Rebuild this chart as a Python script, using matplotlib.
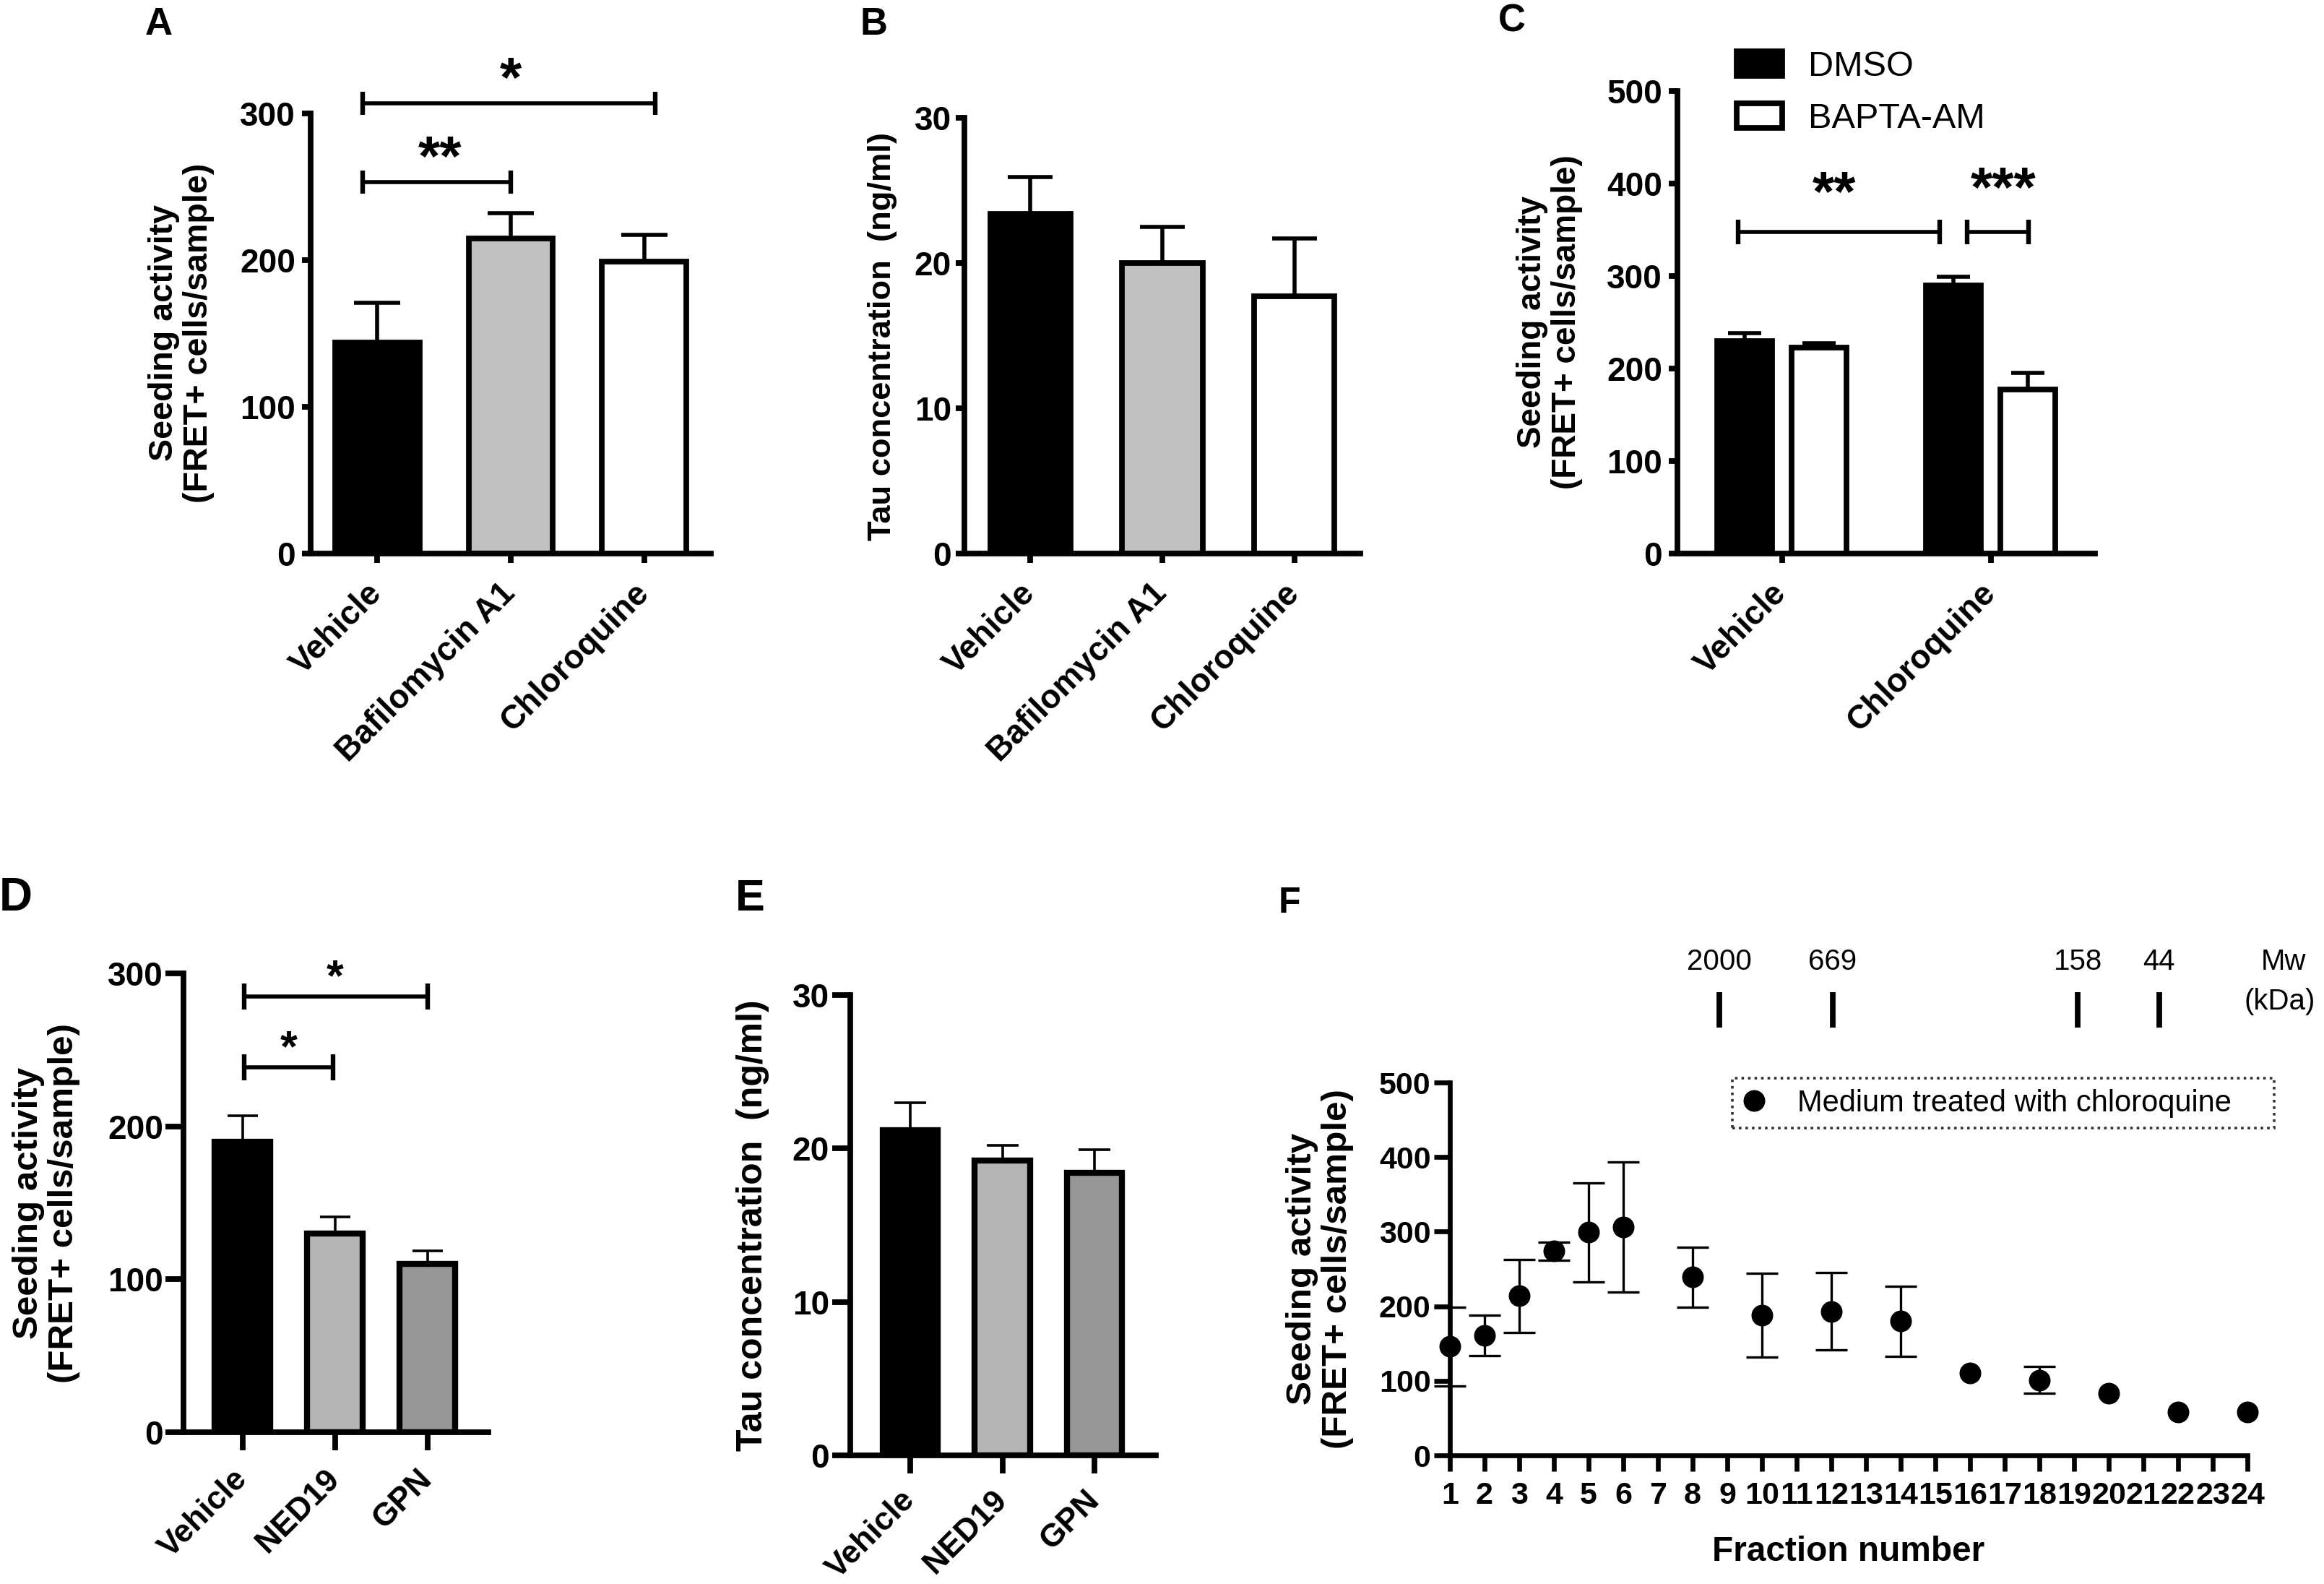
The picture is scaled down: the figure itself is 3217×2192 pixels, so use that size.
import matplotlib.pyplot as plt
from matplotlib.patches import Patch
from matplotlib.lines import Line2D

plt.rcParams['font.family'] = ['Liberation Sans', 'DejaVu Sans']
plt.rcParams['font.weight'] = 'bold'

# ---- data ----
ab_groups = ['Vehicle', 'Bafilomycin A1', 'Chloroquine']
ab_colors = ['black', '#c0c0c0', 'white']
a_mean = [144, 215, 199]
a_err = [27, 17, 18]
b_mean = [23.4, 20.0, 17.7]
b_err = [2.5, 2.5, 4.0]

c_groups = ['Vehicle', 'Chloroquine']
c_dmso = [230, 290]
c_dmso_err = [8, 9]
c_bapta = [223, 177]
c_bapta_err = [4, 18]

de_groups = ['Vehicle', 'NED19', 'GPN']
de_colors = ['black', '#b4b4b4', '#969696']
d_mean = [190, 130, 110]
d_err = [17, 11, 8.5]
e_mean = [21.2, 19.2, 18.4]
e_err = [1.8, 1.0, 1.5]

f_fraction = [1, 2, 3, 4, 5, 6, 8, 10, 12, 14, 16, 18, 20, 22, 24]
f_mean = [146, 161, 214, 274, 299, 306, 239, 188, 193, 180, 110, 101, 83, 58, 58]
f_err = [53, 27, 49, 12, 66, 87, 40, 56, 52, 47, 0, 18, 0, 0, 0]
mw_labels = ['2000', '669', '158', '44']
mw_fraction = [8.77, 12.04, 19.11, 21.45]

# significance brackets: x0, x1, bracket y, stars, star x, star y
a_sig = [(-0.11, 1.0, 253, '**', 0.47, 279), (-0.11, 2.085, 307, '*', 1.0, 333)]
c_sig = [(-0.21, 0.755, 348, '**', 0.25, 404), (0.887, 1.183, 348, '***', 1.06, 409)]
d_sig = [(0.02, 0.977, 238.5, '*', 0.5, 259), (0.02, 2.0, 285, '*', 1.0, 305)]

W, H, DPI = 3217, 2192, 200
fig = plt.figure(figsize=(W / DPI, H / DPI), dpi=DPI)


def add_ax(x0, y0, x1, y1):
    return fig.add_axes([x0 / W, 1 - y1 / H, (x1 - x0) / W, (y1 - y0) / H])


def style(ax, lw, ticklen, fs, ypad, xpad):
    for s in ['top', 'right']:
        ax.spines[s].set_visible(False)
    for s in ['left', 'bottom']:
        ax.spines[s].set_linewidth(lw)
    ax.tick_params(axis='both', width=lw, length=ticklen)
    ax.tick_params(axis='y', pad=ypad, labelsize=fs)
    ax.tick_params(axis='x', pad=xpad)


def ftext(x, y, s, **kw):
    fig.text(x / W, 1 - y / H, s, ha='center', va='center', **kw)


def bracket(ax, x0, x1, y, cap, lw):
    ax.plot([x0, x1], [y, y], color='black', lw=lw, clip_on=False, solid_capstyle='butt')
    ax.plot([x0, x1], [y, y], ls='none', marker='|', ms=cap, mew=lw + 0.3,
            color='black', clip_on=False)


def stars(ax, x, y, s, fs):
    ax.annotate(s, (x, y), xytext=(0, -0.56 * fs), textcoords='offset points',
                ha='center', va='baseline', fontsize=fs, fontweight='bold',
                annotation_clip=False)


def xlabels(ax, groups, fs):
    ax.set_xticks(list(range(len(groups))))
    ax.set_xticklabels(groups, rotation=45, ha='right', va='center',
                       rotation_mode='anchor', fontsize=fs, fontweight='bold')


def bar_panel(ax, groups, mean, err, colors, width, lw, elw, cap, fs):
    x = list(range(len(groups)))
    ax.bar(x, mean, width=width, color=colors, edgecolor='black', linewidth=lw, zorder=2)
    ax.errorbar(x, mean, yerr=[[0] * len(err), err], fmt='none', ecolor='black',
                elinewidth=elw, capsize=cap, capthick=elw, zorder=1)
    xlabels(ax, groups, fs)


# ---- A ----
axA = add_ax(430, 157, 984, 766)
bar_panel(axA, ab_groups, a_mean, a_err, ab_colors, 0.63, 2.8, 2, 11.5, 16.5)
axA.set_xlim(-0.5, 2.5)
axA.set_ylim(0, 300)
axA.set_yticks([0, 100, 200, 300])
style(axA, 2.8, 4.5, 16.5, 3, 13)
for x0, x1, y, s, sx, sy in a_sig:
    bracket(axA, x0, x1, y, 11.5, 2)
    stars(axA, sx, sy, s, 28)
ftext(251, 461, 'Seeding activity\n(FRET+ cells/sample)', rotation=90, fontsize=16.8, linespacing=1.1)
ftext(220, 34, 'A', fontsize=19)

# ---- B ----
axB = add_ax(1335, 163, 1883, 766)
bar_panel(axB, ab_groups, b_mean, b_err, ab_colors, 0.61, 2.8, 2, 11, 16.5)
axB.set_xlim(-0.5, 2.5)
axB.set_ylim(0, 30)
axB.set_yticks([0, 10, 20, 30])
style(axB, 2.8, 4.5, 16.5, 2, 13)
ftext(1221, 465, 'Tau concentration  (ng/ml)', rotation=90, fontsize=16.3)
ftext(1210, 34, 'B', fontsize=19)

# ---- C ----
axC = add_ax(2322, 126, 2900, 766)
xc = list(range(len(c_groups)))
off = 0.178
axC.bar([i - off for i in xc], c_dmso, width=0.26, color='black', edgecolor='black',
        linewidth=2.8, zorder=2)
axC.bar([i + off for i in xc], c_bapta, width=0.26, color='white', edgecolor='black',
        linewidth=2.8, zorder=2)
axC.errorbar([i - off for i in xc], c_dmso, yerr=[[0, 0], c_dmso_err], fmt='none',
             ecolor='black', elinewidth=2, capsize=8.4, capthick=2, zorder=1)
axC.errorbar([i + off for i in xc], c_bapta, yerr=[[0, 0], c_bapta_err], fmt='none',
             ecolor='black', elinewidth=2, capsize=8.4, capthick=2, zorder=1)
xlabels(axC, c_groups, 16.5)
axC.set_xlim(-0.5, 1.5)
axC.set_ylim(0, 500)
axC.set_yticks(range(0, 501, 100))
style(axC, 2.8, 4.5, 16.5, 3, 13)
for x0, x1, y, s, sx, sy in c_sig:
    bracket(axC, x0, x1, y, 12.5, 2)
    stars(axC, sx, sy, s, 28)
legC = axC.legend(handles=[Patch(facecolor='black', edgecolor='black', linewidth=2.8),
                           Patch(facecolor='white', edgecolor='black', linewidth=2.8)],
                  labels=['DMSO', 'BAPTA-AM'], loc='upper left',
                  bbox_to_anchor=(0.142, 1.087), borderaxespad=0, borderpad=0,
                  frameon=False, handlelength=1.3, handleheight=0.7,
                  handletextpad=0.74, labelspacing=0.55,
                  prop={'size': 17.5, 'weight': 'normal'})
ftext(2145, 446, 'Seeding activity\n(FRET+ cells/sample)', rotation=90, fontsize=16.5, linespacing=1.1)
ftext(2093, 30, 'C', fontsize=19)

# ---- D ----
axD = add_ax(254, 1347, 676, 1982)
bar_panel(axD, de_groups, d_mean, d_err, de_colors, 0.6, 3, 1.3, 7.5, 16)
axD.set_xlim(-0.64, 2.66)
axD.set_ylim(0, 300)
axD.set_yticks([0, 100, 200, 300])
style(axD, 2.8, 9, 16.5, 1, 12)
for x0, x1, y, s, sx, sy in d_sig:
    bracket(axD, x0, x1, y, 13, 2)
    stars(axD, sx, sy, s, 22)
ftext(64, 1665, 'Seeding activity\n(FRET+ cells/sample)', rotation=90, fontsize=17.8, linespacing=1.1)
ftext(22, 1243, 'D', fontsize=23)

# ---- E ----
axE = add_ax(1177, 1377, 1600, 2014)
bar_panel(axE, de_groups, e_mean, e_err, de_colors, 0.6, 3, 1.3, 8, 16)
axE.set_xlim(-0.655, 2.67)
axE.set_ylim(0, 30)
axE.set_yticks([0, 10, 20, 30])
style(axE, 2.8, 9, 16.5, 1.5, 11)
ftext(1042, 1696, 'Tau concentration  (ng/ml)', rotation=90, fontsize=18)
ftext(1038, 1245, 'E', fontsize=22)

# ---- F ----
axF = add_ax(2007, 1498, 3111, 2014)
axF.plot(f_fraction, f_mean, 'o', color='black', ms=9.8, clip_on=False, zorder=3)
f_has = [i for i, e in enumerate(f_err) if e > 0]
eb = axF.errorbar([f_fraction[i] for i in f_has], [f_mean[i] for i in f_has],
                  yerr=[f_err[i] for i in f_has], fmt='none', ecolor='black',
                  elinewidth=1.2, capsize=7.8, capthick=1.2, zorder=2)
for art in eb.get_children():
    art.set_clip_on(False)
axF.set_xlim(1, 24)
axF.set_ylim(0, 500)
axF.set_xticks(range(1, 25))
axF.set_yticks(range(0, 501, 100))
style(axF, 2.4, 8, 15.5, 1.5, 5)
axF.tick_params(axis='x', labelsize=15.5)
axF.vlines(mw_fraction, 574, 621, color='black', lw=2.8, clip_on=False)
for lab, xm in zip(mw_labels, mw_fraction):
    axF.text(xm, 662, lab, ha='center', va='center', fontsize=14.5, fontweight='normal', clip_on=False)
axF.text(25.04, 662, 'Mw', ha='center', va='center', fontsize=14.5, fontweight='normal', clip_on=False)
axF.text(24.94, 608.5, '(kDa)', ha='center', va='center', fontsize=14.5, fontweight='normal', clip_on=False)
legF = axF.legend(handles=[Line2D([], [], marker='o', color='black', ls='none', ms=9.8)],
                  labels=['Medium treated with chloroquine'], loc='upper left',
                  bbox_to_anchor=(0.3542, 0, 0.6793, 1.0116), mode='expand',
                  borderaxespad=0, borderpad=0.35, handlelength=0.74, handletextpad=1.07,
                  fancybox=False, edgecolor='black', prop={'size': 15, 'weight': 'normal'})
legF.get_frame().set_linestyle((0, (1, 1.5)))
legF.get_frame().set_linewidth(1.3)
ftext(1827, 1756, 'Seeding activity\n(FRET+ cells/sample)', rotation=90, fontsize=17.8, linespacing=1.1)
ftext(2559, 2147, 'Fraction number', fontsize=17.2)
ftext(1785, 1250, 'F', fontsize=18)

fig.savefig('out.png', dpi=DPI)
